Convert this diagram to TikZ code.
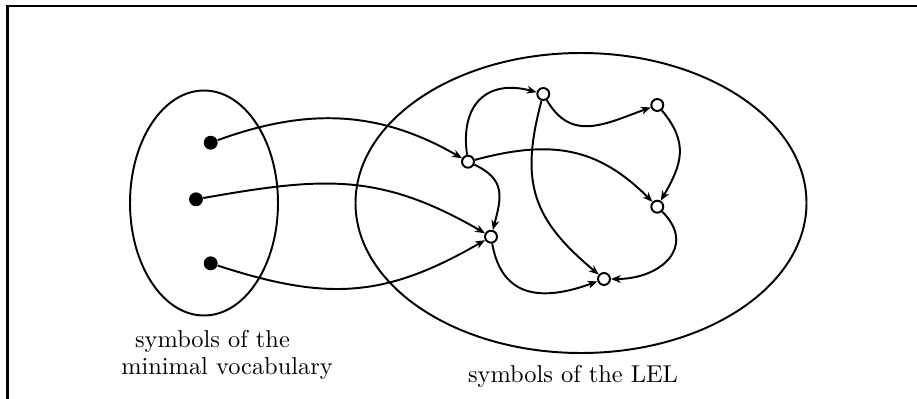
\documentclass[tikz,border=0pt]{standalone}
\usetikzlibrary{arrows.meta,shapes.geometric}
\begin{document}
\begin{tikzpicture}[x=0.41pt,y=-0.41pt,
  edge/.style={line width=0.8pt,-{Stealth[length=4pt,width=3.2pt,inset=1.2pt]}},
  dotnode/.style={circle,fill=black,inner sep=0pt,minimum size=5.7pt},
  opennode/.style={circle,draw,fill=white,line width=0.8pt,inner sep=0pt,minimum size=4.9pt},
  region/.style={ellipse,draw,line width=0.8pt,inner sep=0pt},
  lbl/.style={inner sep=0pt,anchor=base}]
\useasboundingbox (0,0) rectangle (917,399);
\draw[line width=1pt] (918,6) -- (7.5,6) -- (7.5,400);
\node[region,minimum width=148*0.41pt,minimum height=225*0.41pt] (L) at (204,203) {};
\node[region,minimum width=451*0.41pt,minimum height=300*0.41pt] (R) at (581,203) {};
\node[dotnode] (d1) at (210.7,142.7) {};
\node[dotnode] (d2) at (196,199.3) {};
\node[dotnode] (d3) at (210.7,263.3) {};
\node[opennode] (A) at (468,161.7) {};
\node[opennode] (B) at (543.3,94) {};
\node[opennode] (C) at (657.3,105) {};
\node[opennode] (D) at (657.3,206.7) {};
\node[opennode] (E) at (491,236.7) {};
\node[opennode] (F) at (604,279) {};
\draw[edge] (d1) to[out=20,in=150] (A);
\draw[edge] (d2) to[out=10,in=150,looseness=1.1] (E);
\draw[edge] (d3) to[out=-18,in=-150,looseness=1.1] (E);
\draw[edge] (A) to[out=98,in=165,looseness=1.4] (B);
\draw[edge] (B) to[out=-60,in=200,looseness=1.2] (C);
\draw[edge] (C) to[out=-50,in=60,looseness=1.2] (D);
\draw[edge] (A) to[out=15,in=135,looseness=1.1] (D);
\draw[edge] (A) to[out=-25,in=75,looseness=1.3] (E);
\draw[edge] (B) to[out=-105,in=140,looseness=1.2] (F);
\draw[edge] (D) to[out=-45,in=0,looseness=1.5] (F);
\draw[edge] (E) to[out=-80,in=200,looseness=1.3] (F);
\node[lbl] (t1) at (212.5,347) {symbols of the};
\node[lbl] (t2) at (227,374) {minimal vocabulary};
\node[lbl] (t3) at (573,382) {symbols of the LEL};
\end{tikzpicture}
\end{document}
